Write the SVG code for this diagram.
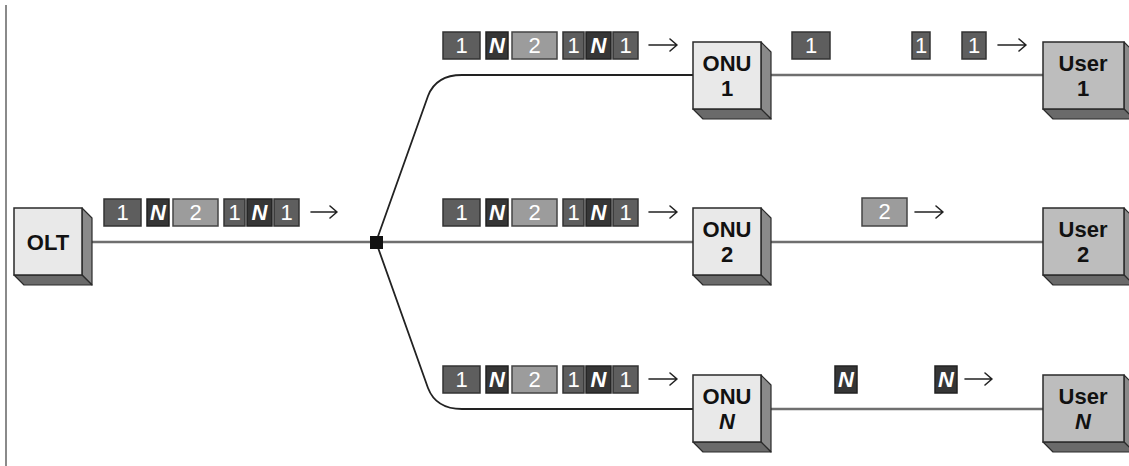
<svg xmlns="http://www.w3.org/2000/svg" width="1129" height="466" viewBox="0 0 1129 466">
<defs>
<style>
.front{fill:#e9e9e9;stroke:#2a2a2a;stroke-width:1.5}
.ufront{fill:#bdbdbd;stroke:#2a2a2a;stroke-width:1.5}
.side{fill:#8a8a8a;stroke:#2a2a2a;stroke-width:1.2;stroke-linejoin:round}
.bot{fill:#6a6a6a;stroke:#2a2a2a;stroke-width:1.2;stroke-linejoin:round}
.lbl{font-family:"Liberation Sans",Arial,sans-serif;font-weight:bold;font-size:22px;fill:#111;text-anchor:middle}
.it{font-style:italic}
.p1{fill:#5e5e5e;stroke:#333;stroke-width:1.5}
.pN{fill:#363636;stroke:#222;stroke-width:1.5}
.p2{fill:#9c9c9c;stroke:#444;stroke-width:1.5}
.pt{font-family:"Liberation Sans",Arial,sans-serif;font-size:22px;fill:#fff;text-anchor:middle}
.ptN{font-family:"Liberation Sans",Arial,sans-serif;font-size:22px;fill:#fff;text-anchor:middle;font-style:italic;font-weight:bold}
.fib{fill:none;stroke:#6f6f6f;stroke-width:2.5}
.fibd{fill:none;stroke:#222;stroke-width:1.8}
.arr{fill:none;stroke:#222;stroke-width:1.6;stroke-linecap:round;stroke-linejoin:round}
</style>
</defs>
<rect width="1129" height="466" fill="#fff"/>
<line x1="6" y1="5" x2="6" y2="466" stroke="#8a8a8a" stroke-width="2"/>

<g id="connectors">
<line class="fib" x1="82" y1="242" x2="693" y2="242"/>
<path class="fibd" d="M376,242 L428,96 Q436,75 462,75 L693,75"/>
<path class="fibd" d="M376,242 L428,388 Q436,409 462,409 L693,409"/>
<line class="fib" x1="771" y1="75" x2="1043" y2="75"/>
<line class="fib" x1="771" y1="242" x2="1043" y2="242"/>
<line class="fib" x1="771" y1="409" x2="1043" y2="409"/>
</g>

<g id="splitter"><rect x="370" y="236" width="13" height="13" fill="#111"/></g>

<g id="olt">
<polygon class="side" points="82,208 92,218 92,285 82,275"/>
<polygon class="bot" points="14,275 82,275 92,285 24,285"/>
<rect class="front" x="14" y="208" width="68" height="67"/>
<text class="lbl" x="48" y="250">OLT</text>
</g>

<g id="onu1">
<polygon class="side" points="761,42 771,52 771,119 761,109"/>
<polygon class="bot" points="693,109 761,109 771,119 703,119"/>
<rect class="front" x="693" y="42" width="68" height="67"/>
<text class="lbl" x="727" y="71">ONU</text>
<text class="lbl" x="727" y="96">1</text>
</g>
<g id="onu2">
<polygon class="side" points="761,208 771,218 771,285 761,275"/>
<polygon class="bot" points="693,275 761,275 771,285 703,285"/>
<rect class="front" x="693" y="208" width="68" height="67"/>
<text class="lbl" x="727" y="237">ONU</text>
<text class="lbl" x="727" y="262">2</text>
</g>
<g id="onuN">
<polygon class="side" points="761,375 771,385 771,452 761,442"/>
<polygon class="bot" points="693,442 761,442 771,452 703,452"/>
<rect class="front" x="693" y="375" width="68" height="67"/>
<text class="lbl" x="727" y="404">ONU</text>
<text class="lbl it" x="727" y="429">N</text>
</g>

<g id="user1">
<polygon class="side" points="1124,42 1134,52 1134,119 1124,109"/>
<polygon class="bot" points="1043,109 1124,109 1134,119 1053,119"/>
<rect class="ufront" x="1043" y="42" width="81" height="67"/>
<text class="lbl" x="1083" y="71">User</text>
<text class="lbl" x="1083" y="96">1</text>
</g>
<g id="user2">
<polygon class="side" points="1124,208 1134,218 1134,285 1124,275"/>
<polygon class="bot" points="1043,275 1124,275 1134,285 1053,285"/>
<rect class="ufront" x="1043" y="208" width="81" height="67"/>
<text class="lbl" x="1083" y="237">User</text>
<text class="lbl" x="1083" y="262">2</text>
</g>
<g id="userN">
<polygon class="side" points="1124,375 1134,385 1134,452 1124,442"/>
<polygon class="bot" points="1043,442 1124,442 1134,452 1053,452"/>
<rect class="ufront" x="1043" y="375" width="81" height="67"/>
<text class="lbl" x="1083" y="404">User</text>
<text class="lbl it" x="1083" y="429">N</text>
</g>

<g id="frames-olt">
<rect class="p1" x="104" y="199" width="37" height="27"/><text class="pt" x="122.5" y="220">1</text>
<rect class="pN" x="147" y="199" width="22" height="27"/><text class="ptN" x="158" y="220">N</text>
<rect class="p2" x="173" y="199" width="45" height="27"/><text class="pt" x="195.5" y="220">2</text>
<rect class="p1" x="224" y="199" width="21" height="27"/><text class="pt" x="234.5" y="220">1</text>
<rect class="pN" x="247" y="199" width="25" height="27"/><text class="ptN" x="259.5" y="220">N</text>
<rect class="p1" x="274" y="199" width="25" height="27"/><text class="pt" x="286.5" y="220">1</text>
<path class="arr" d="M311,212 H337 M330,206 L337,212 L330,218"/>
</g>

<g id="frames-row1">
<rect class="p1" x="443" y="32" width="37" height="27"/><text class="pt" x="461.5" y="53">1</text>
<rect class="pN" x="486" y="32" width="22" height="27"/><text class="ptN" x="497" y="53">N</text>
<rect class="p2" x="512" y="32" width="45" height="27"/><text class="pt" x="534.5" y="53">2</text>
<rect class="p1" x="563" y="32" width="21" height="27"/><text class="pt" x="573.5" y="53">1</text>
<rect class="pN" x="586" y="32" width="25" height="27"/><text class="ptN" x="598.5" y="53">N</text>
<rect class="p1" x="613" y="32" width="25" height="27"/><text class="pt" x="625.5" y="53">1</text>
<path class="arr" d="M649,45 H677 M670,39 L677,45 L670,51"/>
<rect class="p1" x="792" y="32" width="38" height="27"/><text class="pt" x="811" y="53">1</text>
<rect class="p1" x="912" y="32" width="18" height="27"/><text class="pt" x="921" y="53">1</text>
<rect class="p1" x="962" y="32" width="24" height="27"/><text class="pt" x="974" y="53">1</text>
<path class="arr" d="M998,45 H1026 M1019,39 L1026,45 L1019,51"/>
</g>

<g id="frames-row2">
<rect class="p1" x="443" y="199" width="37" height="27"/><text class="pt" x="461.5" y="220">1</text>
<rect class="pN" x="486" y="199" width="22" height="27"/><text class="ptN" x="497" y="220">N</text>
<rect class="p2" x="512" y="199" width="45" height="27"/><text class="pt" x="534.5" y="220">2</text>
<rect class="p1" x="563" y="199" width="21" height="27"/><text class="pt" x="573.5" y="220">1</text>
<rect class="pN" x="586" y="199" width="25" height="27"/><text class="ptN" x="598.5" y="220">N</text>
<rect class="p1" x="613" y="199" width="25" height="27"/><text class="pt" x="625.5" y="220">1</text>
<path class="arr" d="M649,212 H677 M670,206 L677,212 L670,218"/>
<rect class="p2" x="862" y="198" width="45" height="28"/><text class="pt" x="884.5" y="219">2</text>
<path class="arr" d="M915,212 H943 M936,206 L943,212 L936,218"/>
</g>

<g id="frames-row3">
<rect class="p1" x="443" y="366" width="37" height="27"/><text class="pt" x="461.5" y="387">1</text>
<rect class="pN" x="486" y="366" width="22" height="27"/><text class="ptN" x="497" y="387">N</text>
<rect class="p2" x="512" y="366" width="45" height="27"/><text class="pt" x="534.5" y="387">2</text>
<rect class="p1" x="563" y="366" width="21" height="27"/><text class="pt" x="573.5" y="387">1</text>
<rect class="pN" x="586" y="366" width="25" height="27"/><text class="ptN" x="598.5" y="387">N</text>
<rect class="p1" x="613" y="366" width="25" height="27"/><text class="pt" x="625.5" y="387">1</text>
<path class="arr" d="M649,379 H677 M670,373 L677,379 L670,385"/>
<rect class="pN" x="835" y="366" width="22" height="27"/><text class="ptN" x="846" y="387">N</text>
<rect class="pN" x="935" y="366" width="22" height="27"/><text class="ptN" x="946" y="387">N</text>
<path class="arr" d="M965,379 H992 M985,373 L992,379 L985,385"/>
</g>
</svg>
